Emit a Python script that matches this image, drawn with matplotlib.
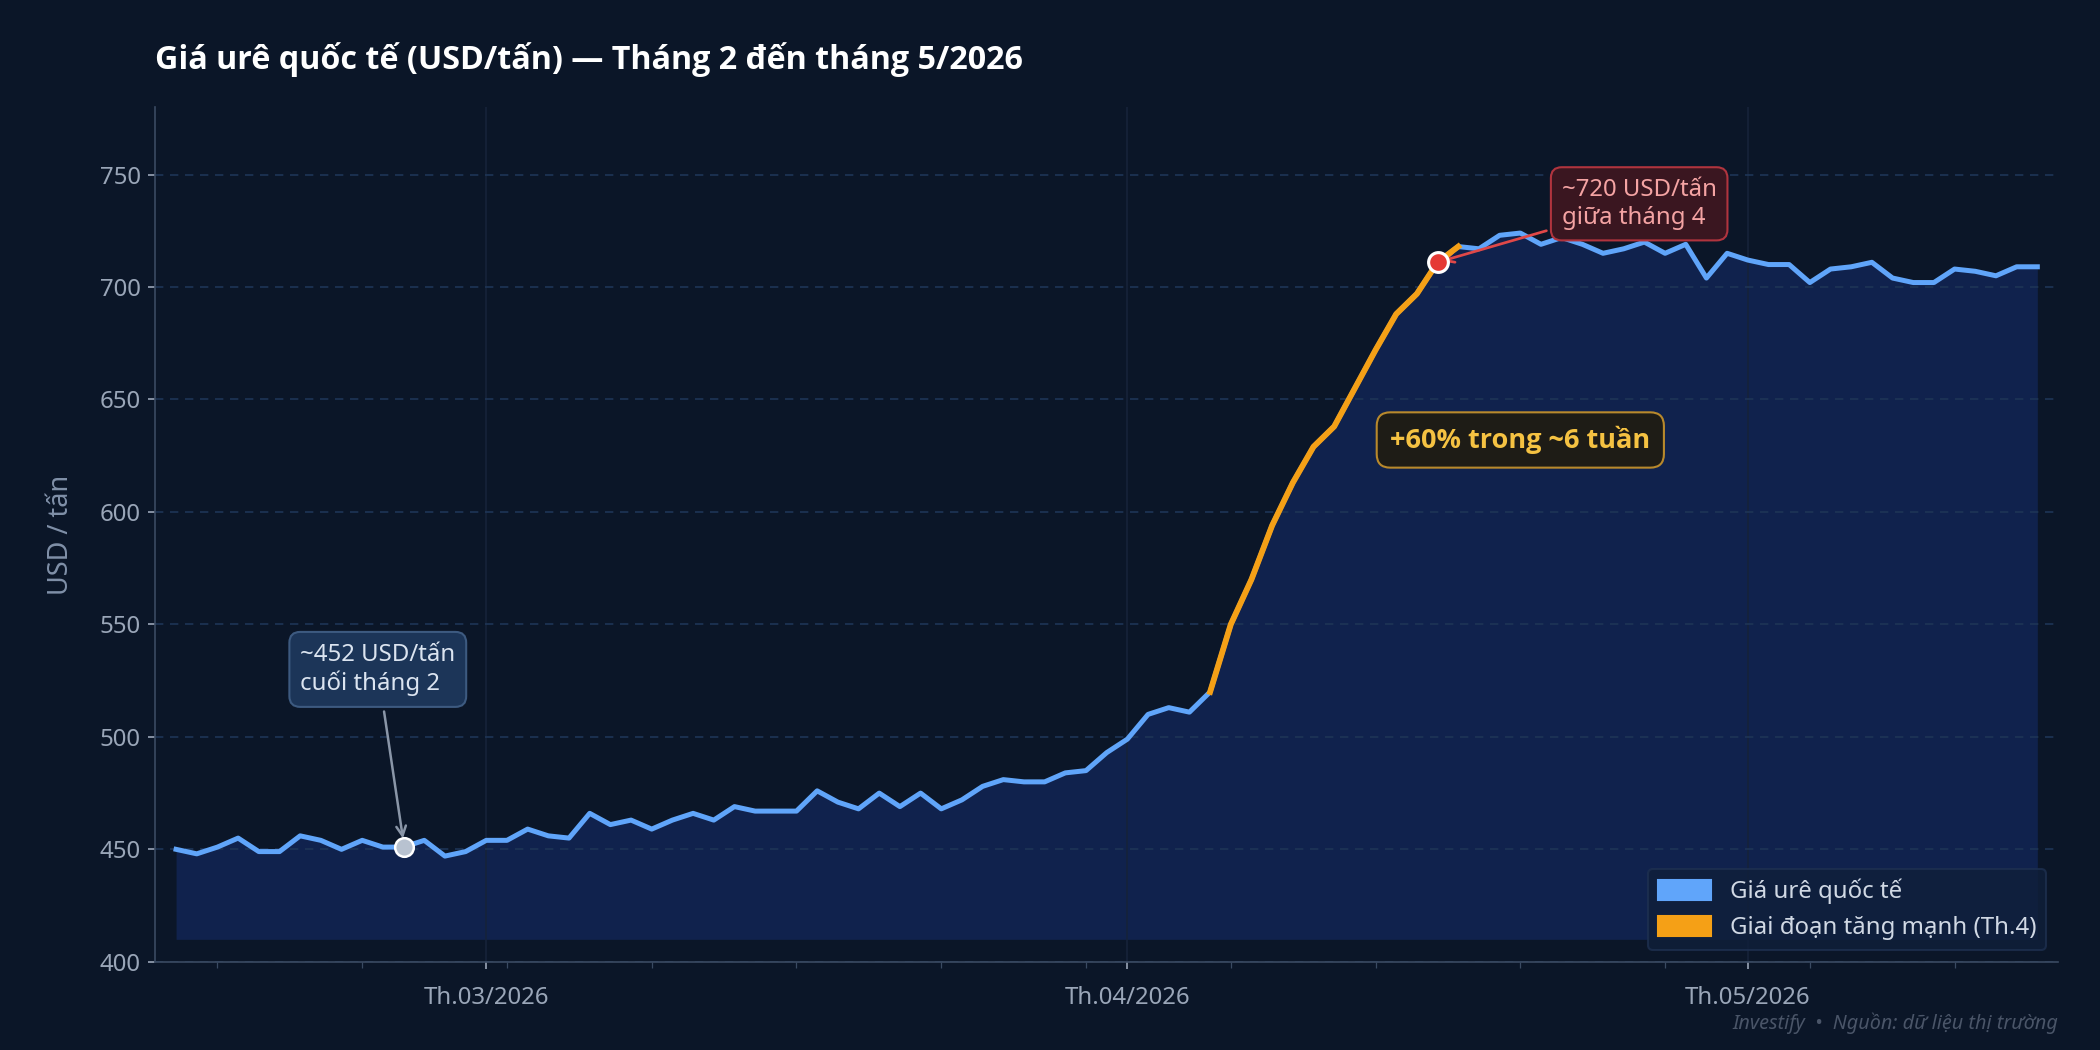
import matplotlib
matplotlib.use("Agg")
import matplotlib.pyplot as plt
import matplotlib.dates as mdates
import numpy as np
import datetime as dt
from matplotlib.patches import Patch

plt.rcParams['font.family'] = ['Noto Sans', 'DejaVu Sans']
BOLD = ['Open Sans', 'DejaVu Sans']

start = dt.date(2026, 2, 14)
prices = [450,448,451,455,449,449,456,454,450,454,451,451,454,447,449,
          454,454,459,456,455,466,461,463,459,463,466,463,469,467,467,467,
          476,471,468,475,469,475,468,472,478,481,480,480,484,485,493,
          499,510,513,511,520,550,570,594,613,629,638,655,672,688,697,711,
          718,717,723,724,719,722,719,715,717,720,715,719,704,715,
          712,710,710,702,708,709,711,704,702,702,708,707,705,709,709]
dates = [start + dt.timedelta(days=i) for i in range(len(prices))]
surge_start, surge_end = 50, 62
month_ticks = [dt.date(2026, 3, 1), dt.date(2026, 4, 1), dt.date(2026, 5, 1)]
month_labels = ["Th.03/2026", "Th.04/2026", "Th.05/2026"]

bg = "#0b1628"
fig = plt.figure(figsize=(14, 7), dpi=150, facecolor=bg)
ax = fig.add_axes([0.074, 0.084, 0.906, 0.814], facecolor="#0b1628")

ax.fill_between(dates, 410, prices, color="#12275a", alpha=0.75, lw=0)
ax.plot(dates, prices, color="#60a5fa", lw=2.4, zorder=3)
ax.plot(dates[surge_start:surge_end+1], prices[surge_start:surge_end+1],
        color="#f5a016", lw=2.8, zorder=4)

ax.set_xlim(dt.date(2026, 2, 13), dt.date(2026, 5, 16))
ax.set_ylim(400, 780)
ax.set_yticks([400, 450, 500, 550, 600, 650, 700, 750])
ax.set_xticks(month_ticks)
ax.set_xticklabels(month_labels)
ax.xaxis.set_minor_locator(mdates.WeekdayLocator(byweekday=mdates.MO))
ax.grid(axis='y', color="#1e3556", ls=(0, (5, 4)), lw=0.8)
ax.grid(axis='x', which='major', color="#16233a", lw=0.8)
for s in ['top', 'right']:
    ax.spines[s].set_visible(False)
for s in ['left', 'bottom']:
    ax.spines[s].set_color("#3a4a62")
ax.tick_params(colors="#9aa6b8", labelsize=11.5)
ax.tick_params(which='minor', colors="#3a4a62", length=3)
ax.tick_params(axis='x', pad=8)
ax.set_ylabel("USD / tấn", color="#8090a8", fontsize=13, labelpad=12)

fig.text(0.074, 0.943, "Giá urê quốc tế (USD/tấn) — Tháng 2 đến tháng 5/2026",
         color="white", fontsize=15.5, fontweight='bold', family=BOLD, va='center')

i1 = 11
ax.scatter([dates[i1]], [prices[i1]], s=80, color="#b8c2d0", edgecolor="white", lw=1.2, zorder=6)
ax.annotate("~452 USD/tấn\ncuối tháng 2", xy=(dates[i1], prices[i1] + 2),
            xytext=(dt.date(2026, 2, 20), 530), color="#dbe4f0", fontsize=11.5,
            va='center',
            bbox=dict(boxstyle="round,pad=0.45", fc="#1c3558", ec="#3d5a80"),
            arrowprops=dict(arrowstyle="->", color="#8a96a8", lw=1.2))
i2 = 61
ax.scatter([dates[i2]], [prices[i2]], s=90, color="#e53935", edgecolor="white", lw=1.5, zorder=6)
ax.annotate("~720 USD/tấn\ngiữa tháng 4", xy=(dates[i2], prices[i2]),
            xytext=(dt.date(2026, 4, 22), 737), color="#f4a3a3", fontsize=11.5,
            va='center',
            bbox=dict(boxstyle="round,pad=0.45", fc="#3a1620", ec="#b0343e"),
            arrowprops=dict(arrowstyle="->", color="#e04848", lw=1.3))
ax.text(dt.date(2026, 4, 20), 632, "+60% trong ~6 tuần", color="#f5c242",
        fontsize=13, fontweight='bold', family=BOLD, ha='center', va='center',
        bbox=dict(boxstyle="round,pad=0.5", fc="#1e1c16", ec="#b8892c"))

handles = [Patch(color="#60a5fa", label="Giá urê quốc tế"),
           Patch(color="#f5a016", label="Giai đoạn tăng mạnh (Th.4)")]
ax.legend(handles=handles, loc='lower right', fontsize=11.5, frameon=True,
          facecolor="#0f1f3a", edgecolor="#1e3050", labelcolor="#d0d8e4",
          handlelength=2.2, handleheight=0.9)

fig.text(0.98, 0.02, "Investify  •  Nguồn: dữ liệu thị trường", color="#4a5568",
         fontsize=9.5, style='italic', ha='right')

fig.savefig("out.png", facecolor=bg)
